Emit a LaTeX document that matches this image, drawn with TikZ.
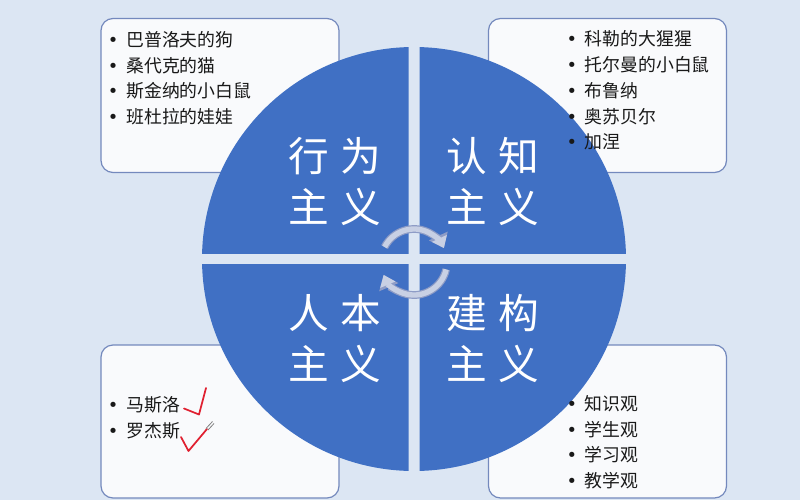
\documentclass[tikz,border=0pt]{standalone}
\usepackage{fontspec}
\setmainfont{Noto Sans CJK SC}
\newfontfamily\symfont{DejaVu Sans}
\usetikzlibrary{arrows.meta}
\definecolor{bgblue}{HTML}{DCE6F3}
\definecolor{wedgeblue}{HTML}{4070C4}
\definecolor{boxfill}{HTML}{F9FAFC}
\definecolor{boxline}{HTML}{7489BD}
\definecolor{arrowfill}{HTML}{C8D0E4}
\definecolor{arrowline}{HTML}{8E9CC6}
\definecolor{checkred}{HTML}{E02030}
\newcommand{\bul}{\makebox[6pt][c]{\symfont •}\hspace{6.75pt}}
\newcommand{\cjkgap}{\hspace{0.28em}}
\begin{document}
\begin{tikzpicture}[x=0.75pt,y=-0.75pt,
  infobox/.style={draw=boxline, fill=boxfill, line width=0.9pt, rounded corners=9pt},
  wedge/.style={fill=wedgeblue},
  bigtext/.style={text=white, font=\fontsize{30.5}{38.3}\selectfont, align=center, inner sep=0pt},
  listtext/.style={text=black!90, font=\fontsize{13.4}{19.35}\selectfont, align=left, inner sep=0pt, anchor=north west},
  arrowout/.style={draw=arrowline, line width=5.8pt, -{Triangle[length=10pt,width=15pt]}},
  arrowin/.style={draw=arrowfill, line width=4pt, -{Triangle[length=8pt,width=11.8pt]}},
  tick/.style={draw=checkred, line width=1.3pt, line cap=round, line join=round}]
\useasboundingbox (0,0) rectangle (800,500);
\fill[bgblue] (0,0) rectangle (800,500);

% info boxes
\draw[infobox] (101,18.5) rectangle (339,172.5);
\draw[infobox] (488.5,18.5) rectangle (726.5,172.5);
\draw[infobox] (101,345) rectangle (339,498);
\draw[infobox] (488.5,345) rectangle (726.5,498);

% four wedges of the circle
\begin{scope}
  \clip (150,0) rectangle (408.5,253.5);
  \fill[wedge] (414,259) circle [radius=212];
\end{scope}
\begin{scope}
  \clip (419.5,0) rectangle (700,253.5);
  \fill[wedge] (414,259) circle [radius=212];
\end{scope}
\begin{scope}
  \clip (150,264.5) rectangle (408.5,500);
  \fill[wedge] (414,259) circle [radius=212];
\end{scope}
\begin{scope}
  \clip (419.5,264.5) rectangle (700,500);
  \fill[wedge] (414,259) circle [radius=212];
\end{scope}

% cycle arrows
\draw[arrowout] (414,262) ++(-153:33) arc[start angle=-153, end angle=-25, radius=33];
\draw[arrowin]  (414,262) ++(-153:33) arc[start angle=-153, end angle=-25, radius=33];
\draw[arrowout] (414,262) ++(13:33) arc[start angle=13, end angle=157, radius=33];
\draw[arrowin]  (414,262) ++(13:33) arc[start angle=13, end angle=157, radius=33];

% quadrant titles
\node[bigtext] (behav) at (335,181.5) {行\cjkgap 为\\主\cjkgap 义};
\node[bigtext] (cogn)  at (493,181.5) {认\cjkgap 知\\主\cjkgap 义};
\node[bigtext] (human) at (335,338.5) {人\cjkgap 本\\主\cjkgap 义};
\node[bigtext] (constr) at (493,338.5) {建\cjkgap 构\\主\cjkgap 义};

% lists
\node[listtext] (tlList) at (109,31) {\bul 巴普洛夫的狗\\\bul 桑代克的猫\\\bul 斯金纳的小白鼠\\\bul 班杜拉的娃娃};
\node[listtext] (trList) at (567.5,30.3) {\bul 科勒的大猩猩\\\bul 托尔曼的小白鼠\\\bul 布鲁纳\\\bul 奥苏贝尔\\\bul 加涅};
\node[listtext] (blList) at (109,396) {\bul 马斯洛\\\bul 罗杰斯};
\node[listtext] (brList) at (567.5,395) {\bul 知识观\\\bul 学生观\\\bul 学习观\\\bul 教学观};

% red check marks
\draw[tick] (184,408.5) -- (199,414.5) -- (206,388);
\draw[tick] (181,437) -- (188.5,451) -- (207,429);
\draw[gray, line width=0.6pt] (206,428.5) -- (212.5,421.5) (208,430) -- (214,423.5);
\end{tikzpicture}
\end{document}
